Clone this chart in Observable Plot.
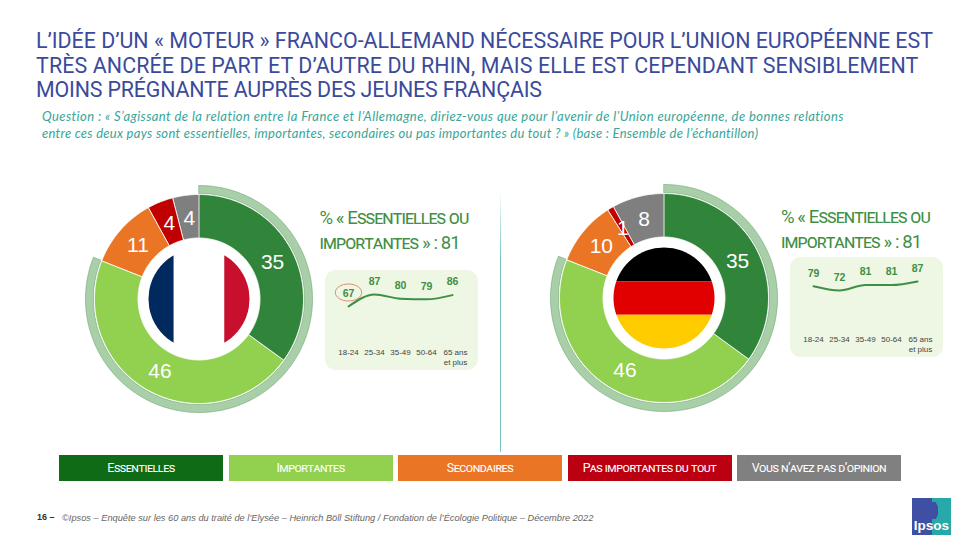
<!DOCTYPE html>
<html lang="fr">
<head>
<meta charset="utf-8">
<script src="https://cdn.jsdelivr.net/npm/d3@7"></script>
<script src="https://cdn.jsdelivr.net/npm/@observablehq/plot@0.6"></script>
<style>
  html, body { margin: 0; padding: 0; background: #fff; }
  #page { position: relative; width: 980px; height: 552px; overflow: hidden; font-family: "Liberation Sans", Arial, sans-serif; }
  #page > * { position: absolute; }
  #title { left: 36px; top: 29px; width: 920px; font: 400 21.4px/24.7px Roboto, sans-serif; color: #3b4a9b; white-space: nowrap; }
  #subtitle { left: 42px; top: 108px; font: italic 400 13px/17px Lato, sans-serif; color: #37a598; white-space: nowrap; }
  .share { font: 400 18.5px/24.5px Roboto, sans-serif; font-variant: small-caps; color: #3f8f45; letter-spacing: -0.9px; white-space: nowrap; }
  #separator { left: 499.5px; top: 190px; width: 1px; height: 262px; background: linear-gradient(to bottom, #ffffff 0%, #7cc6c4 25%, #7cc6c4 100%); }
  #legend { left: 59px; top: 455px; width: 842px; height: 25.5px; display: flex; gap: 5.5px; }
  #legend div { flex: 1 1 0; display: flex; align-items: center; justify-content: center; color: #fff; font: 400 12.4px Roboto, sans-serif; font-variant: small-caps; letter-spacing: -0.45px; white-space: nowrap; }
  #pageno { left: 37px; top: 512px; font: 700 9px "Liberation Sans", sans-serif; color: #333; white-space: nowrap; }
  #source { left: 62px; top: 512.5px; font: italic 400 9.25px "Liberation Sans", sans-serif; color: #666; white-space: nowrap; }
  #logo { left: 912px; top: 498px; width: 39px; height: 37px; background: radial-gradient(ellipse 4.5px 9px at 56% 34%, #3f4fa3 96%, transparent 100%), linear-gradient(to right, #3f4fa3 0 52%, #27a9a9 52% 100%); color: #fff; font: 700 13.5px/1 "Liberation Sans", sans-serif; text-align: center; box-sizing: border-box; padding-top: 21px; }
  svg { display: block; }
</style>
</head>
<body>
<div id="page">
  <div id="title"></div>
  <div id="subtitle"></div>
  <div id="separator"></div>
  <div id="legend"></div>
  <div id="pageno"></div>
  <div id="source"></div>
  <div id="logo"></div>
</div>
<script>
// ---- texts ----
const titleLines = [
  "L’IDÉE D’UN « MOTEUR » FRANCO-ALLEMAND NÉCESSAIRE POUR L’UNION EUROPÉENNE EST",
  "TRÈS ANCRÉE DE PART ET D’AUTRE DU RHIN, MAIS ELLE EST CEPENDANT SENSIBLEMENT",
  "MOINS PRÉGNANTE AUPRÈS DES JEUNES FRANÇAIS"
];
const titleSpacing = [-0.01, 0.12, -0.17];
const subtitleLines = [
  "Question : « S’agissant de la relation entre la France et l’Allemagne, diriez-vous que pour l’avenir de l’Union européenne, de bonnes relations",
  "entre ces deux pays sont essentielles, importantes, secondaires ou pas importantes du tout ? » (base : Ensemble de l’échantillon)"
];
const subtitleSpacing = [0.41, 0.28];
const shareLines = ["% « Essentielles ou", "importantes » : "];
const pageNumber = "16 –";
const sourceText = "©Ipsos – Enquête sur les 60 ans du traité de l’Elysée – Heinrich Böll Stiftung / Fondation de l’Écologie Politique – Décembre 2022";
const logoText = "Ipsos";

// ---- data ----
const categories = ["Essentielles", "Importantes", "Secondaires", "Pas importantes du tout", "Vous n’avez pas d’opinion"];
const donutColors = ["#31853a", "#92d050", "#ea7625", "#c00000", "#7f7f7f"];
const legendColors = ["#0f6b16", "#92d050", "#ea7625", "#bb0012", "#808080"];
const franceValues = [35, 46, 11, 4, 4];
const germanyValues = [35, 46, 10, 1, 8];
const franceShare = 81;
const germanyShare = 81;

const ages = ["18-24", "25-34", "35-49", "50-64", "65 ans\net plus"];
const franceAges = [67, 87, 80, 79, 86];
const germanyAges = [79, 72, 81, 81, 87];
const circledAge = "18-24";

const franceFlag = ["#002a5e", "#ffffff", "#c8102e"];
const germanyFlag = ["#000000", "#e00000", "#ffcc00"];

// ---- geometry helpers ----
const R_OUT = 104.5, R_IN = 61, R_LABEL = 82, RING_IN = 105.5, RING_OUT = 113.5, FLAG_R = 50.5;
const polar = (r, pct) => {
  const a = pct / 100 * 2 * Math.PI;
  return [r * Math.sin(a), r * Math.cos(a)];
};
function arcBand(start, end, r0, r1, extra) {
  const n = Math.max(2, Math.ceil((end - start) * 4));
  return d3.range(n + 1).map(i => {
    const p = start + (end - start) * i / n;
    const [x1, y1] = polar(r1, p), [x2, y2] = polar(r0, p);
    return {x1, y1, x2, y2, ...extra};
  });
}
function slices(values) {
  let acc = 0;
  return values.flatMap((v, i) => {
    const rows = arcBand(acc, acc + v, R_IN, R_OUT, {category: categories[i]});
    acc += v;
    return rows;
  });
}
function sliceLabels(values) {
  let acc = 0;
  return values.map(v => {
    const [x, y] = polar(R_LABEL, acc + v / 2);
    acc += v;
    return {x, y, v};
  });
}
// stripes of a round flag: equal parts along one axis, cut by the disc
function stripe(a, b) {
  const n = 40;
  return d3.range(n + 1).map(i => {
    const t = a + (b - a) * i / n;
    return {t, half: Math.sqrt(Math.max(0, FLAG_R * FLAG_R - t * t))};
  });
}
function verticalStripes(cols, cuts) {
  return cols.map((c, i) => Plot.areaY(stripe(cuts[i], cuts[i + 1]), {x: "t", y1: d => -d.half, y2: "half", fill: c, curve: "linear"}));
}
function horizontalStripes(cols, cuts) {
  return cols.map((c, i) => Plot.areaX(stripe(cuts[i], cuts[i + 1]), {y: "t", x1: d => -d.half, x2: "half", fill: c, curve: "linear"}));
}

function donut(values, flagMarks) {
  const ringEnd = values[0] + values[1];
  return Plot.plot({
    width: 240, height: 240, margin: 0,
    x: {domain: [-120, 120], axis: null},
    y: {domain: [-120, 120], axis: null},
    color: {domain: categories, range: donutColors},
    style: {background: "transparent", fontFamily: "Liberation Sans, Arial, sans-serif"},
    marks: [
      Plot.area(arcBand(0, ringEnd, RING_IN, RING_OUT, {}), {x1: "x1", y1: "y1", x2: "x2", y2: "y2", fill: "#a9cfa9", stroke: "#6ea473", strokeWidth: 0.6, curve: "linear"}),
      Plot.area(slices(values), {x1: "x1", y1: "y1", x2: "x2", y2: "y2", fill: "category", z: "category", stroke: "#fff", strokeWidth: 0.8, curve: "linear"}),
      ...flagMarks,
      Plot.text(sliceLabels(values), {x: "x", y: "y", text: "v", fill: "#fff", fontSize: 21})
    ]
  });
}

function spark(values, circled) {
  const tickOptions = {anchor: "bottom", tickSize: 0, tickPadding: 0, fontSize: 8, lineHeight: 1.2, lineAnchor: "top", label: null, fill: "#444", dy: -22};
  const rows = ages.map((a, i) => ({a, v: values[i]}));
  const marks = [
    Plot.axisX({...tickOptions, ticks: ages.slice(0, -1)}),
    Plot.axisX({...tickOptions, ticks: ages.slice(-1), dx: 3}),
    Plot.line(rows, {x: "a", y: "v", stroke: "#3f8f45", strokeWidth: 2, curve: "monotone-x"}),
    Plot.text(rows, {x: "a", y: "v", text: "v", dy: -13, fill: "#3f8f45", fontSize: 10.5, fontWeight: 700})
  ];
  if (circled) {
    const i = ages.indexOf(circled);
    const ellipse = {draw(ctx, size) {
      const r = Math.sqrt(size / Math.PI), rx = r * 1.55, ry = r, k = 0.5523;
      ctx.moveTo(-rx, 0);
      ctx.bezierCurveTo(-rx, -k * ry, -k * rx, -ry, 0, -ry);
      ctx.bezierCurveTo(k * rx, -ry, rx, -k * ry, rx, 0);
      ctx.bezierCurveTo(rx, k * ry, k * rx, ry, 0, ry);
      ctx.bezierCurveTo(-k * rx, ry, -rx, k * ry, -rx, 0);
      ctx.closePath();
    }};
    marks.push(Plot.dot([{a: circled, v: values[i]}], {x: "a", y: "v", dy: -14, r: 8.5, symbol: ellipse, stroke: "#d9906a", strokeWidth: 1, fill: "none"}));
  }
  return Plot.plot({
    width: 153, height: 100, margin: 0,
    x: {type: "point", domain: ages, range: [22, 128], padding: 0, axis: null},
    y: {domain: [40, 100], range: [52.2, 16.2], axis: null},
    style: {background: "#eef6e4", borderRadius: "11px", fontFamily: "Liberation Sans, Arial, sans-serif", overflow: "visible"},
    marks
  });
}

// ---- assemble ----
const page = document.getElementById("page");
function place(node, left, top) {
  const d = document.createElement("div");
  d.style.left = left + "px";
  d.style.top = top + "px";
  d.append(node);
  page.append(d);
  return d;
}
function spacedLines(id, lines, spacing) {
  lines.forEach((t, i) => {
    const l = document.createElement("div");
    l.textContent = t;
    l.style.letterSpacing = spacing[i] + "px";
    document.getElementById(id).append(l);
  });
}
spacedLines("title", titleLines, titleSpacing);
spacedLines("subtitle", subtitleLines, subtitleSpacing);
document.getElementById("pageno").textContent = pageNumber;
document.getElementById("source").textContent = sourceText;
document.getElementById("logo").textContent = logoText;
categories.forEach((c, i) => {
  const b = document.createElement("div");
  b.textContent = c;
  b.style.background = legendColors[i];
  document.getElementById("legend").append(b);
});

const frQuarter = FLAG_R / 2;
place(donut(franceValues, [
  Plot.areaY(stripe(-FLAG_R, FLAG_R), {x: "t", y1: d => -d.half, y2: "half", fill: "#fff", curve: "linear"}),
  ...verticalStripes(franceFlag, [-FLAG_R, -frQuarter, frQuarter, FLAG_R])
]), 78.5, 178.5);
place(donut(germanyValues, horizontalStripes(germanyFlag, [FLAG_R, FLAG_R / 3, -FLAG_R / 3, -FLAG_R])), 543.5, 178);

place(spark(franceAges, circledAge), 325, 270);
place(spark(germanyAges, null), 790, 257);

function shareBlock(value, left, top) {
  const s = document.createElement("div");
  s.className = "share";
  s.innerHTML = shareLines[0] + "<br>" + shareLines[1] + value;
  s.style.left = left + "px";
  s.style.top = top + "px";
  page.append(s);
}
shareBlock(franceShare, 319.5, 206);
shareBlock(germanyShare, 781, 205);
</script>
</body>
</html>
